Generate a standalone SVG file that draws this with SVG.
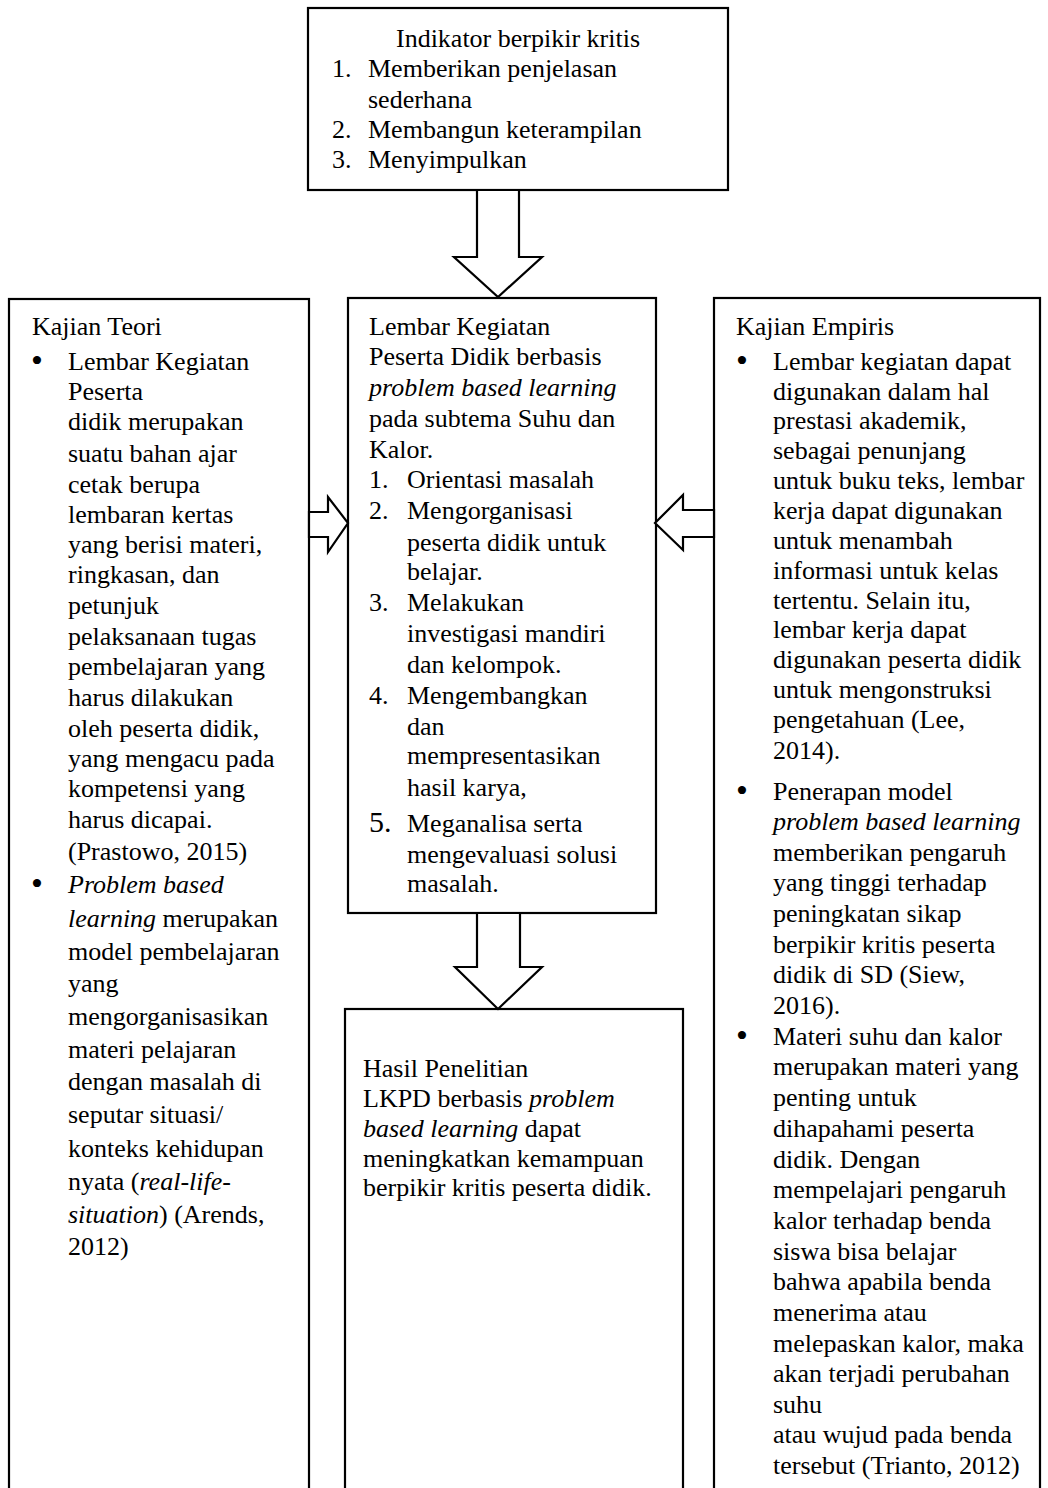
<svg xmlns="http://www.w3.org/2000/svg" width="1048" height="1488" viewBox="0 0 1048 1488">
<style>
.box{fill:#fff;stroke:#000;stroke-width:2.2}
.arr{fill:#fff;stroke:#000;stroke-width:2.2;stroke-linejoin:miter}
text{font-family:"Liberation Serif","Times New Roman",serif;font-size:26px;fill:#000}
.i{font-style:italic}
.b{font-size:34px}
</style>
<rect width="1048" height="1488" fill="#fff"/>
<g id="top">
<rect class="box" x="308" y="8" width="420" height="182"/>
<text x="518" y="47" text-anchor="middle">Indikator berpikir kritis</text>
<text x="332" y="77">1.</text><text x="368" y="77">Memberikan penjelasan</text>
<text x="368" y="108">sederhana</text>
<text x="332" y="138">2.</text><text x="368" y="138">Membangun keterampilan</text>
<text x="332" y="168">3.</text><text x="368" y="168">Menyimpulkan</text>
</g>
<g id="teori">
<rect class="box" x="9" y="299" width="300" height="1200"/>
<text x="32" y="335">Kajian Teori</text>
<text class="b" x="31" y="372">•</text>
<text x="68" y="370">Lembar Kegiatan</text>
<text x="68" y="400">Peserta</text>
<text x="68" y="430">didik merupakan</text>
<text x="68" y="462">suatu bahan ajar</text>
<text x="68" y="493">cetak berupa</text>
<text x="68" y="523">lembaran kertas</text>
<text x="68" y="553">yang berisi materi,</text>
<text x="68" y="583">ringkasan, dan</text>
<text x="68" y="614">petunjuk</text>
<text x="68" y="645">pelaksanaan tugas</text>
<text x="68" y="675">pembelajaran yang</text>
<text x="68" y="706">harus dilakukan</text>
<text x="68" y="737">oleh peserta didik,</text>
<text x="68" y="767">yang mengacu pada</text>
<text x="68" y="797">kompetensi yang</text>
<text x="68" y="828">harus dicapai.</text>
<text x="68" y="860">(Prastowo, 2015)</text>
<text class="b" x="31" y="895">•</text>
<text x="68" y="893" class="i">Problem based</text>
<text x="68" y="927"><tspan class="i">learning</tspan> merupakan</text>
<text x="68" y="960">model pembelajaran</text>
<text x="68" y="992">yang</text>
<text x="68" y="1025">mengorganisasikan</text>
<text x="68" y="1058">materi pelajaran</text>
<text x="68" y="1090">dengan masalah di</text>
<text x="68" y="1123">seputar situasi/</text>
<text x="68" y="1157">konteks kehidupan</text>
<text x="68" y="1190">nyata (<tspan class="i">real-life-</tspan></text>
<text x="68" y="1223"><tspan class="i">situation</tspan>) (Arends,</text>
<text x="68" y="1255">2012)</text>
</g>
<g id="lkpd">
<rect class="box" x="348" y="298" width="308" height="615"/>
<text x="369" y="335">Lembar Kegiatan</text>
<text x="369" y="365">Peserta Didik berbasis</text>
<text x="369" y="396" class="i">problem based learning</text>
<text x="369" y="427">pada subtema Suhu dan</text>
<text x="369" y="458">Kalor.</text>
<text x="369" y="488">1.</text><text x="407" y="488">Orientasi masalah</text>
<text x="369" y="519">2.</text><text x="407" y="519">Mengorganisasi</text>
<text x="407" y="551">peserta didik untuk</text>
<text x="407" y="580">belajar.</text>
<text x="369" y="611">3.</text><text x="407" y="611">Melakukan</text>
<text x="407" y="642">investigasi mandiri</text>
<text x="407" y="673">dan kelompok.</text>
<text x="369" y="704">4.</text><text x="407" y="704">Mengembangkan</text>
<text x="407" y="735">dan</text>
<text x="407" y="764">mempresentasikan</text>
<text x="407" y="796">hasil karya,</text>
<text x="369" y="832" style="font-size:30px">5.</text><text x="407" y="832">Meganalisa serta</text>
<text x="407" y="863">mengevaluasi solusi</text>
<text x="407" y="892">masalah.</text>
</g>
<g id="empiris">
<rect class="box" x="714" y="298" width="326" height="1200"/>
<text x="736" y="335">Kajian Empiris</text>
<text class="b" x="736" y="372">•</text>
<text x="773" y="370">Lembar kegiatan dapat</text>
<text x="773" y="400">digunakan dalam hal</text>
<text x="773" y="429">prestasi akademik,</text>
<text x="773" y="459">sebagai penunjang</text>
<text x="773" y="489">untuk buku teks, lembar</text>
<text x="773" y="519">kerja dapat digunakan</text>
<text x="773" y="549">untuk menambah</text>
<text x="773" y="579">informasi untuk kelas</text>
<text x="773" y="609">tertentu. Selain itu,</text>
<text x="773" y="638">lembar kerja dapat</text>
<text x="773" y="668">digunakan peserta didik</text>
<text x="773" y="698">untuk mengonstruksi</text>
<text x="773" y="728">pengetahuan (Lee,</text>
<text x="773" y="759">2014).</text>
<text class="b" x="736" y="802">•</text>
<text x="773" y="800">Penerapan model</text>
<text x="773" y="830" class="i">problem based learning</text>
<text x="773" y="861">memberikan pengaruh</text>
<text x="773" y="891">yang tinggi terhadap</text>
<text x="773" y="922">peningkatan sikap</text>
<text x="773" y="953">berpikir kritis peserta</text>
<text x="773" y="983">didik di SD (Siew,</text>
<text x="773" y="1014">2016).</text>
<text class="b" x="736" y="1047">•</text>
<text x="773" y="1045">Materi suhu dan kalor</text>
<text x="773" y="1075">merupakan materi yang</text>
<text x="773" y="1106">penting untuk</text>
<text x="773" y="1137">dihapahami peserta</text>
<text x="773" y="1168">didik. Dengan</text>
<text x="773" y="1198">mempelajari pengaruh</text>
<text x="773" y="1229">kalor terhadap benda</text>
<text x="773" y="1260">siswa bisa belajar</text>
<text x="773" y="1290">bahwa apabila benda</text>
<text x="773" y="1321">menerima atau</text>
<text x="773" y="1352">melepaskan kalor, maka</text>
<text x="773" y="1382">akan terjadi perubahan</text>
<text x="773" y="1413">suhu</text>
<text x="773" y="1443">atau wujud pada benda</text>
<text x="773" y="1474">tersebut (Trianto, 2012)</text>
</g>
<g id="hasil">
<rect class="box" x="345" y="1009" width="338" height="500"/>
<text x="363" y="1077">Hasil Penelitian</text>
<text x="363" y="1107">LKPD berbasis <tspan class="i">problem</tspan></text>
<text x="363" y="1137"><tspan class="i">based learning</tspan> dapat</text>
<text x="363" y="1167">meningkatkan kemampuan</text>
<text x="363" y="1196">berpikir kritis peserta didik.</text>
</g>
<g id="connectors">
<polygon class="arr" points="477,190 519,190 519,257 542,257 498,297 454,257 477,257"/>
<polygon class="arr" points="477,913 520,913 520,967 542,967 498,1009 455,967 477,967"/>
<polygon class="arr" points="309,512 328,512 328,497 348,523 328,552 328,537 309,537"/>
<polygon class="arr" points="714,510 683,510 683,495 655,523 683,550 683,537 714,537"/>
</g>
</svg>
